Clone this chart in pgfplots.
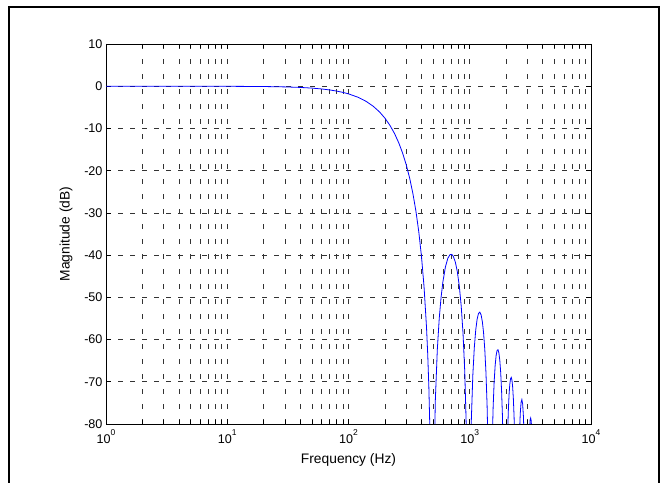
\documentclass[border=0pt]{standalone}
\usepackage{fontspec}
\setmainfont{Liberation Sans}
\usepackage{pgfplots}
\pgfplotsset{compat=1.18}
\newcommand\tp[1]{10\raisebox{0.62em}{\fontsize{8.5bp}{8.5bp}\selectfont #1}}
\begin{document}
\begin{tikzpicture}
\useasboundingbox (0,0) rectangle (664bp,483bp);
\draw[line width=1.6bp] (9bp,-2bp) -- (9bp,476bp) -- (659bp,476bp) -- (659bp,-2bp);
\begin{axis}[
 at={(106bp,59bp)}, anchor=south west,
 scale only axis, width=485bp, height=380bp,
 xmode=log, log basis x=10,
 xmin=1, xmax=10000, ymin=-80, ymax=10,
 xtick={1,10,100,1000,10000},
 xticklabels={\tp{0},\tp{1},\tp{2},\tp{3},\tp{4}},
 ytick={-80,-70,-60,-50,-40,-30,-20,-10,0,10},
 yticklabels={-80,-70,-60,-50,-40,-30,-20,-10,0,10},
 minor xtick={2,3,4,5,6,7,8,9,20,30,40,50,60,70,80,90,200,300,400,500,600,700,800,900,2000,3000,4000,5000,6000,7000,8000,9000},
 grid=both,
 major x grid style={black!80, dash pattern=on 5bp off 10bp, line width=0.7bp},
 minor x grid style={black!80, dash pattern=on 5bp off 10bp, line width=0.7bp},
 major y grid style={black!80, dash pattern=on 5bp off 7bp, line width=0.7bp},
 tick align=inside,
 xtick pos=both, ytick pos=both,
 major tick length=5bp, minor tick length=4bp,
 tick style={black, line width=0.7bp},
 axis line style={black, line width=0.9bp},
 ticklabel style={font=\fontsize{12.6bp}{14bp}\selectfont},
 xticklabel style={yshift=-2bp},
 label style={font=\fontsize{13.8bp}{16bp}\selectfont},
 xlabel style={yshift=-3bp},
 ylabel style={yshift=5bp},
 xlabel={Frequency (Hz)}, ylabel={Magnitude (dB)},
 /pgf/number format/assume math mode=true,
]
\addplot[blue, line width=0.8bp] coordinates {
(1,0)(10,-0.018)(20,-0.072)(30,-0.161)(40,-0.286)(50,-0.448)(60,-0.646)(70,-0.881)(80,-1.153)(90,-1.462)(100,-1.81)(120,-2.62)(140,-3.60)(160,-4.75)(180,-6.07)(200,-7.58)(220,-9.30)(240,-11.24)(260,-13.44)(280,-15.91)(300,-18.70)(320,-21.86)(340,-25.47)(360,-29.63)(380,-34.50)(400,-40.35)(420,-47.55)(440,-57.11)(450,-63.35)(460,-71.29)(470,-82.35)(480,-100.9)(490,-120)
(500,-101.95)(520,-74.49)(540,-62.45)(560,-55.07)(580,-50.02)(600,-46.41)(630,-42.79)(660,-40.73)(690,-39.85)(710,-39.83)(730,-40.23)(760,-41.60)(790,-43.93)(820,-47.32)(850,-52.02)(880,-58.48)(910,-67.72)(940,-82.55)(960,-100.9)(980,-120)
(1000,-102)(1030,-79.28)(1060,-68.49)(1090,-61.96)(1120,-57.78)(1150,-55.20)(1180,-53.83)(1210,-53.51)(1240,-54.14)(1270,-55.74)(1300,-58.39)(1330,-62.26)(1360,-67.73)(1390,-75.55)(1420,-87.65)(1450,-111.7)(1470,-120)
(1500,-102.1)(1530,-85.04)(1560,-75.80)(1590,-69.95)(1620,-66.15)(1650,-63.80)(1680,-62.60)(1710,-62.41)(1740,-63.19)(1770,-64.95)(1800,-67.81)(1830,-72.00)(1860,-77.98)(1890,-86.76)(1920,-100)(1960,-120)
(1990,-109.5)(2020,-92.28)(2050,-82.92)(2080,-76.95)(2110,-73.04)(2140,-70.57)(2170,-69.27)(2200,-68.98)(2230,-69.65)(2260,-71.32)(2290,-74.09)(2320,-78.18)(2350,-84.07)(2380,-92.77)(2450,-120)
(2490,-107.9)(2530,-91.16)(2570,-82.47)(2610,-77.49)(2650,-74.91)(2690,-74.22)(2730,-75.25)(2770,-78.10)(2810,-83.17)(2850,-91.50)(2940,-120)
(3050,-88.78)(3100,-81.98)(3150,-78.98)(3180,-78.58)(3210,-79.14)(3260,-82.35)(3430,-120)(10000,-120)
};
\end{axis}
\end{tikzpicture}
\end{document}
